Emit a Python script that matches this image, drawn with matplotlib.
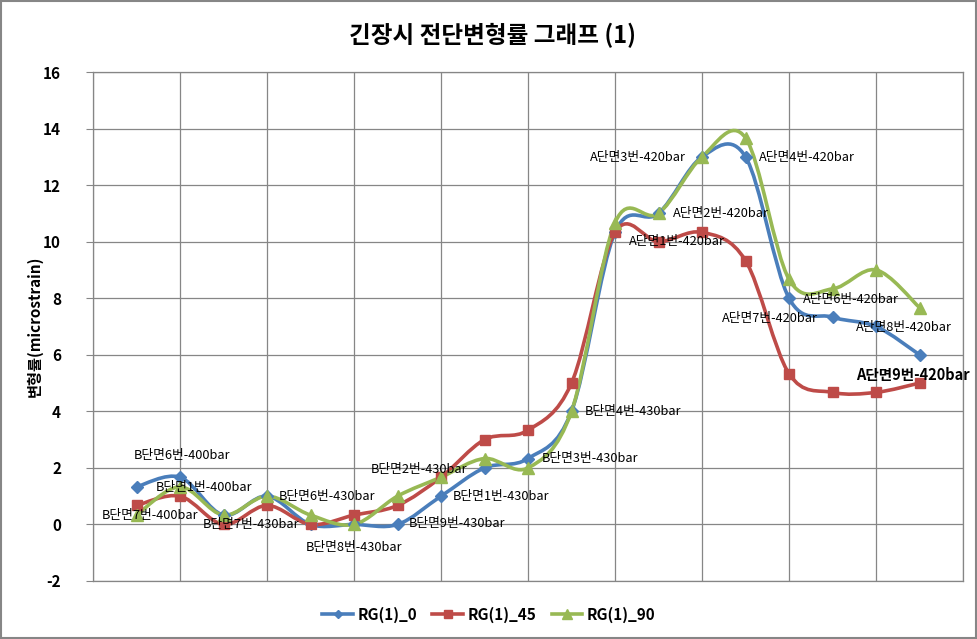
import matplotlib
matplotlib.use("Agg")
import matplotlib.pyplot as plt
from matplotlib.path import Path
from matplotlib.patches import PathPatch, Rectangle
from matplotlib.lines import Line2D
import numpy as np

plt.rcParams['font.family'] = ['Noto Sans CJK KR', 'DejaVu Sans']

x_pos = list(range(1, 20))
rg_0 = [1.33, 1.67, 0.33, 1.0, 0.0, 0.0, 0.0, 1.0, 2.0, 2.33, 4.0, 10.33, 11.0, 13.0, 13.0, 8.0, 7.33, 7.0, 6.0]
rg_45 = [0.67, 1.0, 0.0, 0.67, 0.0, 0.33, 0.67, 1.67, 3.0, 3.33, 5.0, 10.33, 10.0, 10.33, 9.33, 5.33, 4.67, 4.67, 5.0]
rg_90 = [0.33, 1.33, 0.33, 1.0, 0.33, 0.0, 1.0, 1.67, 2.33, 2.0, 4.0, 10.67, 11.0, 13.0, 13.67, 8.67, 8.33, 9.0, 7.67]
series_names = ["RG(1)_0", "RG(1)_45", "RG(1)_90"]
y_ticks = [-2, 0, 2, 4, 6, 8, 10, 12, 14, 16]

labels = ["B단면6번-400bar", "B단면1번-400bar", "B단면7번-400bar", "B단면7번-430bar",
          "B단면6번-430bar", "B단면8번-430bar", "B단면9번-430bar", "B단면2번-430bar",
          "B단면1번-430bar", "B단면3번-430bar", "B단면4번-430bar", "A단면3번-420bar",
          "A단면4번-420bar", "A단면2번-420bar", "A단면1번-420bar", "A단면7번-420bar",
          "A단면6번-420bar", "A단면8번-420bar", "A단면9번-420bar"]
label_pos = [(2.05, 2.42), (2.55, 1.29), (1.31, 0.30), (3.63, -0.02),
             (5.38, 0.97), (6.0, -0.83), (8.36, 0.02), (7.49, 1.96),
             (9.38, 0.97), (11.42, 2.32), (12.41, 3.98), (12.53, 12.99),
             (16.41, 12.99), (14.43, 10.98), (13.42, 9.99), (15.56, 7.27),
             (17.42, 7.97), (18.64, 6.98), (18.85, 5.29)]

colors = ["#4A7EBB", "#BE4B48", "#98B954"]
markers = ["D", "s", "^"]
msizes = [6, 7.5, 8]


def smooth_path(xs, ys):
    pts = np.column_stack([xs, ys]).astype(float)
    n = len(pts)
    verts = [pts[0]]
    codes = [Path.MOVETO]
    for i in range(n - 1):
        p0 = pts[i - 1] if i > 0 else pts[i]
        p1 = pts[i]
        p2 = pts[i + 1]
        p3 = pts[i + 2] if i + 2 < n else pts[i + 1]
        c1 = p1 + (p2 - p0) / 6.0
        c2 = p2 - (p3 - p1) / 6.0
        verts += [c1, c2, p2]
        codes += [Path.CURVE4] * 3
    return Path(verts, codes)


fig = plt.figure(figsize=(9.78, 6.39), dpi=100)
ax = fig.add_axes([0.0951, 0.0908, 0.8896, 0.7965])

for vals, c, m, ms in zip([rg_0, rg_45, rg_90], colors, markers, msizes):
    patch = PathPatch(smooth_path(x_pos, vals), facecolor='none', edgecolor=c,
                      lw=2.6, zorder=3, capstyle='round', joinstyle='round')
    ax.add_patch(patch)
    ax.plot(x_pos, vals, linestyle='none', marker=m, color=c, markersize=ms, zorder=4)

for t, (lx, ly) in zip(labels, label_pos):
    if t == "A단면9번-420bar":
        ax.text(lx, ly, t, ha='center', va='center', fontsize=10.5, fontweight='bold', zorder=5)
    else:
        ax.text(lx, ly, t, ha='center', va='center', fontsize=9.2, zorder=5)

ax.set_xlim(0, 20)
ax.set_ylim(-2, 16)
ax.set_xticks(np.arange(0, 21, 2))
ax.set_xticklabels([])
ax.tick_params(axis='x', length=0)
ax.set_yticks(y_ticks)
ax.set_yticklabels([str(v) for v in y_ticks], fontsize=11, fontweight='bold')
ax.tick_params(axis='y', length=5, color='#868686', pad=18)
ax.grid(True, color='#868686', lw=0.9)
ax.set_axisbelow(True)
for s in ax.spines.values():
    s.set_color('#868686')
    s.set_linewidth(0.9)
ax.set_ylabel("변형률(microstrain)", fontsize=11, fontweight='bold', labelpad=0)

fig.text(0.504, 0.945, "긴장시 전단변형률 그래프 (1)", ha='center', va='center',
         fontsize=17, fontweight='bold')

handles = [Line2D([0], [0], color=c, marker=m, lw=2.6, markersize=ms - 1.5)
           for c, m, ms in zip(colors, markers, msizes)]
fig.legend(handles, series_names, loc='center', bbox_to_anchor=(0.5, 0.038), ncol=3,
           frameon=False, prop={'weight': 'bold', 'size': 11}, handlelength=2.0,
           columnspacing=1.0, handletextpad=0.3)

fig.add_artist(Rectangle((0.001, 0.002), 0.997, 0.996, transform=fig.transFigure,
                         fill=False, edgecolor='#868686', lw=1.5))

fig.savefig("out.png", dpi=100)
